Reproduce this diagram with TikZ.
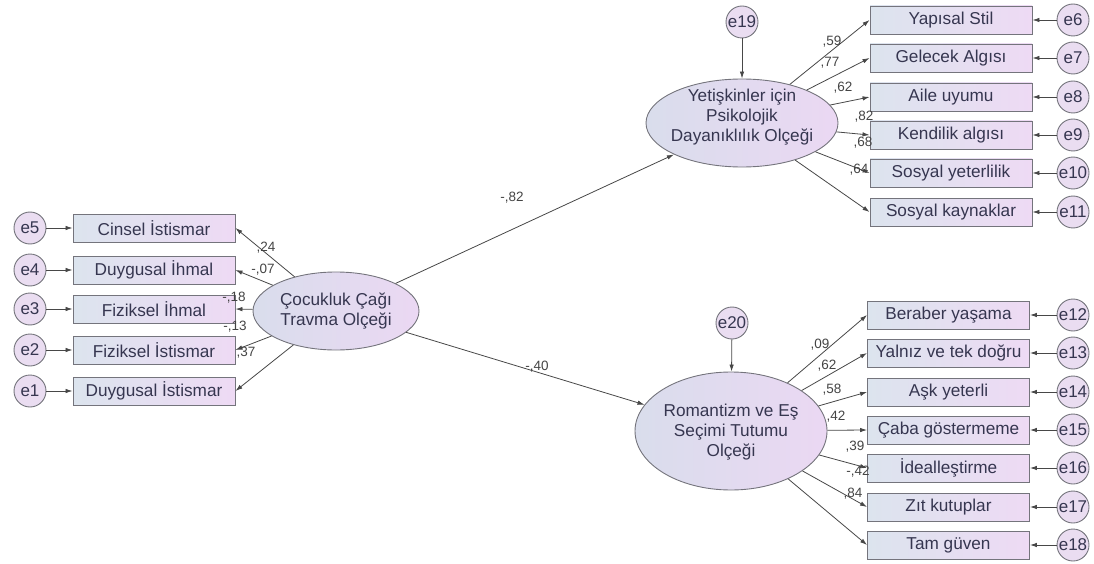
\documentclass[tikz,border=0pt]{standalone}
\usepackage{fontspec}
\setmainfont{Liberation Sans}
\usetikzlibrary{arrows.meta,shapes.geometric}
\definecolor{boxL}{HTML}{DCE4EE}
\definecolor{boxR}{HTML}{EEDAF4}
\definecolor{ellL}{HTML}{D9DDEC}
\definecolor{ellR}{HTML}{EBD8F3}
\definecolor{cirF}{HTML}{EADDF1}
\definecolor{edge}{HTML}{74747C}
\definecolor{txt}{HTML}{363650}
\definecolor{lbl}{HTML}{444444}
\tikzset{
  obs/.style={draw=edge, line width=0.9pt, rectangle, left color=boxL, right color=boxR,
    minimum width=162pt, minimum height=28pt, inner sep=0pt, text=txt,
    font=\fontsize{17.2}{19}\selectfont},
  lat/.style={draw=edge, line width=0.9pt, ellipse, left color=ellL, right color=ellR, inner sep=0pt},
  lattext/.style={align=center, text=txt, font=\fontsize{17.2}{20}\selectfont, inner sep=0pt},
  err/.style={draw=edge, line width=0.9pt, circle, fill=cirF, minimum size=32pt, inner sep=0pt,
    text=txt, font=\fontsize{17}{18}\selectfont},
  path/.style={draw=black!72, line width=0.8pt, -{Latex[length=7pt,width=4.5pt]}},
  ld/.style={text=lbl, font=\fontsize{13.5}{15}\selectfont, inner sep=0pt},
}
\begin{document}
\begin{tikzpicture}[x=1pt,y=-1pt]
\useasboundingbox (0,0) rectangle (1094,564);
% central latent
\node[lat, minimum width=166pt, minimum height=78pt] (C) at (336,311) {};
\node[lattext] (Ct) at (336,311) {Çocukluk Çağı\\Travma Olçeği};
% left indicators
\node[obs] (x5) at (154,228) {Cinsel İstismar};
\node[obs] (x4) at (154,270) {Duygusal İhmal};
\node[obs] (x3) at (154,309) {Fiziksel İhmal};
\node[obs] (x2) at (154,350) {Fiziksel İstismar};
\node[obs] (x1) at (154,391) {Duygusal İstismar};
\foreach \i/\y in {5/228,4/270,3/309,2/350,1/391} {
  \node[err] (e\i) at (30,\y) {e\i};
  \draw[path] (e\i) -- (x\i.west);
  \draw[path] (C) -- (x\i.east);
}
\node[ld] (l5) at (266,248) {,24};
\node[ld] (l4) at (263,270) {-,07};
\node[ld] (l3) at (234,298) {-,18};
\node[ld] (l2) at (235,327) {-,13};
\node[ld] (l1) at (246,353) {,37};
% top latent
\node[lat, minimum width=192pt, minimum height=88pt] (Y) at (742,123) {};
\node[lattext] (Yt) at (742,117) {Yetişkinler için\\Psikolojik\\Dayanıklılık Olçeği};
\node[err] (e19) at (742,22) {e19};
\draw[path] (e19) -- (Y);
\node[obs] (y6) at (951,20) {Yapısal Stil};
\node[obs] (y7) at (951,58) {Gelecek Algısı};
\node[obs] (y8) at (951,97) {Aile uyumu};
\node[obs] (y9) at (951,135) {Kendilik algısı};
\node[obs] (y10) at (951,173) {Sosyal yeterlilik};
\node[obs] (y11) at (951,212) {Sosyal kaynaklar};
\foreach \i/\y in {6/20,7/58,8/97,9/135,10/173,11/212} {
  \node[err] (e\i) at (1073,\y) {e\i};
  \draw[path] (e\i) -- (y\i.east);
  \draw[path] (Y) -- (y\i.west);
}
\node[ld] (m6) at (832,42) {,59};
\node[ld] (m7) at (830,63) {,77};
\node[ld] (m8) at (843,88) {,62};
\node[ld] (m9) at (864,117) {,82};
\node[ld] (m10) at (863,143) {,68};
\node[ld] (m11) at (859,170) {,64};
% bottom latent
\node[lat, minimum width=192pt, minimum height=118pt] (R) at (731,431) {};
\node[lattext] (Rt) at (731,432) {Romantizm ve Eş\\Seçimi Tutumu\\Olçeği};
\node[err] (e20) at (732,323) {e20};
\draw[path] (e20) -- (R);
\node[obs] (z12) at (948.5,315) {Beraber yaşama};
\node[obs] (z13) at (948.5,353) {Yalnız ve tek doğru};
\node[obs] (z14) at (948.5,392) {Aşk yeterli};
\node[obs] (z15) at (948.5,430) {Çaba göstermeme};
\node[obs] (z16) at (948.5,468) {İdealleştirme};
\node[obs] (z17) at (948.5,507) {Zıt kutuplar};
\node[obs] (z18) at (948.5,545) {Tam güven};
\foreach \i/\y in {12/315,13/353,14/392,15/430,16/468,17/507,18/545} {
  \node[err] (e\i) at (1073,\y) {e\i};
  \draw[path] (e\i) -- (z\i.east);
  \draw[path] (R) -- (z\i.west);
}
\node[ld] (n12) at (820,345) {,09};
\node[ld] (n13) at (827,366) {,62};
\node[ld] (n14) at (832,390) {,58};
\node[ld] (n15) at (836,417) {,42};
\node[ld] (n16) at (855,447) {,39};
\node[ld] (n17) at (858,472) {-,42};
\node[ld] (n18) at (853,494) {,84};
% structural paths
\draw[path] (C) -- (Y);
\draw[path] (C) -- (R);
\node[ld] (p1) at (512,198) {-,82};
\node[ld] (p2) at (537,367) {-,40};
\end{tikzpicture}
\end{document}
